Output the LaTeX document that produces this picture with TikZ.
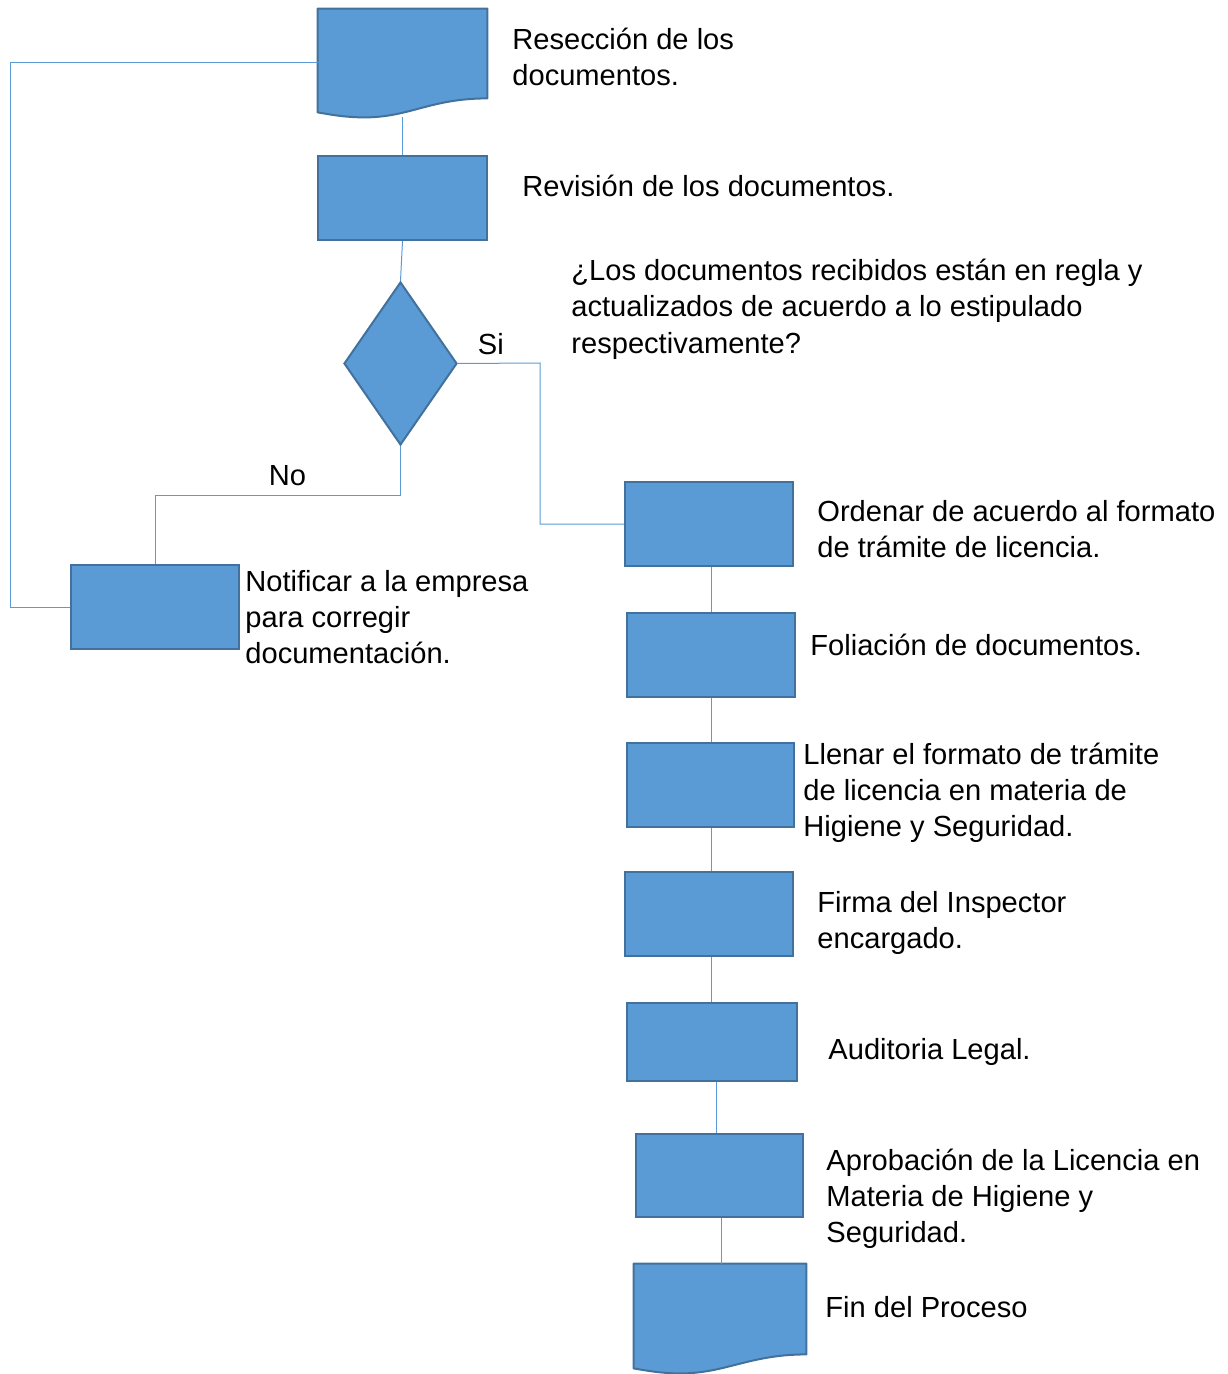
\documentclass[tikz,border=0pt]{standalone}
\usepackage{fontspec}
\setmainfont{Liberation Sans}
\usepackage{xcolor}
\usepackage{tikz}
\usetikzlibrary{calc}
\usetikzlibrary{shapes.geometric}
\definecolor{boxblue}{HTML}{5B9BD5}
\definecolor{boxedge}{HTML}{41719C}
\tikzset{
    tnode/.style = {align=left, inner sep=0pt, anchor=base west, font=\fontsize{14.55}{18}\selectfont},
    procbox/.style = {rectangle, draw=boxedge, fill=boxblue, line width=1pt, inner sep=0pt},
    docbox/.style = {rectangle, draw=none, inner sep=0pt},
    docfill/.style = {draw=boxedge, fill=boxblue, line width=1pt, line join=round},
    decbox/.style = {diamond, draw=boxedge, fill=boxblue, line width=1pt, inner sep=0pt},
    conn/.style = {-, draw=boxblue, line width=0.5pt}
}
% document symbol with a wavy bottom edge
\newcommand{\docwave}[1]{%
    \path[docfill] (#1.north west) -- (#1.north east) -- ($(#1.south east)+(0,-19)$)
        .. controls ($(#1.south east)+(-57,-19)$) and ($(#1.south west)+(92,0)$) .. ($(#1.south west)+(47,0)$)
        .. controls ($(#1.south west)+(27,0)$) and ($(#1.south west)+(12,-3)$) .. ($(#1.south west)+(0,-5)$)
        -- cycle;}

\begin{document}
\begin{tikzpicture}[x=0.5pt, y=-0.5pt]
    \useasboundingbox (0,0) rectangle (1227,1374);

    % shapes
    \node [docbox, minimum width=84.5pt, minimum height=54pt] (rec) at (402.5,63) {};
    \docwave{rec}
    \node [procbox, minimum width=84.5pt, minimum height=42pt] (rev) at (402.5,198) {};
    \node [decbox, minimum width=56.5pt, minimum height=81.5pt] (dec) at (400.5,363.5) {};
    \node [procbox, minimum width=84pt, minimum height=42pt] (notif) at (155,607) {};
    \node [procbox, minimum width=84pt, minimum height=42pt] (ord) at (709,524) {};
    \node [procbox, minimum width=84pt, minimum height=42pt] (fol) at (711,655) {};
    \node [procbox, minimum width=83.5pt, minimum height=42pt] (llen) at (710.5,785) {};
    \node [procbox, minimum width=84pt, minimum height=42pt] (firma) at (709,914) {};
    \node [procbox, minimum width=85pt, minimum height=39pt] (aud) at (712,1042) {};
    \node [procbox, minimum width=83.5pt, minimum height=41.5pt] (aprob) at (719.5,1175.5) {};
    \node [docbox, minimum width=86pt, minimum height=54.5pt] (fin) at (720,1318.5) {};
    \docwave{fin}

    % connectors
    \coordinate (si) at (540,363);
    \coordinate (nocorner) at (155,495);
    \coordinate (back) at (10,607);
    \draw [conn] (rec.south) -- (rev.north);
    \draw [conn] (rev.south) -- (dec.north);
    \draw [conn] (dec.east) -- node [tnode, anchor=base, pos=0.4, yshift=4.5pt] (lsi) {Si} (si) |- (ord.west);
    \draw [conn] (dec.south) |- node [tnode, anchor=base, pos=0.73, yshift=5pt] (lno) {No} (nocorner) -- (notif.north);
    \draw [conn] (notif.west) -- (back) |- (rec.west);
    \draw [conn] (ord.south -| fol.north) -- (fol.north);
    \draw [conn] (fol.south) -- (fol.south |- llen.north);
    \draw [conn] (llen.south -| fol.south) -- (fol.south |- firma.north);
    \draw [conn] (firma.south -| fol.south) -- (fol.south |- aud.north);
    \draw [conn] ($(aud.south)+(4,0)$) -- ($(aud.south |- aprob.north)+(4,0)$);
    \draw [conn] ($(aprob.south)+(1.5,0)$) -- ($(aprob.south |- fin.north)+(1.5,0)$);

    % texts (placed at the baseline of their last line)
    \node [tnode] (trec) at (512,86) {Resección de los\\documentos.};
    \node [tnode] (trev) at (522,197) {Revisión de los documentos.};
    \node [tnode] (tdec) at (571,353) {¿Los documentos recibidos están en regla y\\actualizados de acuerdo a lo estipulado\\respectivamente?};
    \node [tnode] (tnotif) at (245,663) {Notificar a la empresa\\para corregir\\documentación.};
    \node [tnode] (tord) at (817,557) {Ordenar de acuerdo al formato\\de trámite de licencia.};
    \node [tnode] (tfol) at (810,655) {Foliación de documentos.};
    \node [tnode] (tllen) at (803,836) {Llenar el formato de trámite\\de licencia en materia de\\Higiene y Seguridad.};
    \node [tnode] (tfirma) at (817,948) {Firma del Inspector\\encargado.};
    \node [tnode] (taud) at (828,1059) {Auditoria Legal.};
    \node [tnode] (taprob) at (826,1242) {Aprobación de la Licencia en\\Materia de Higiene y\\Seguridad.};
    \node [tnode] (tfin) at (825,1317) {Fin del Proceso};
\end{tikzpicture}
\end{document}
